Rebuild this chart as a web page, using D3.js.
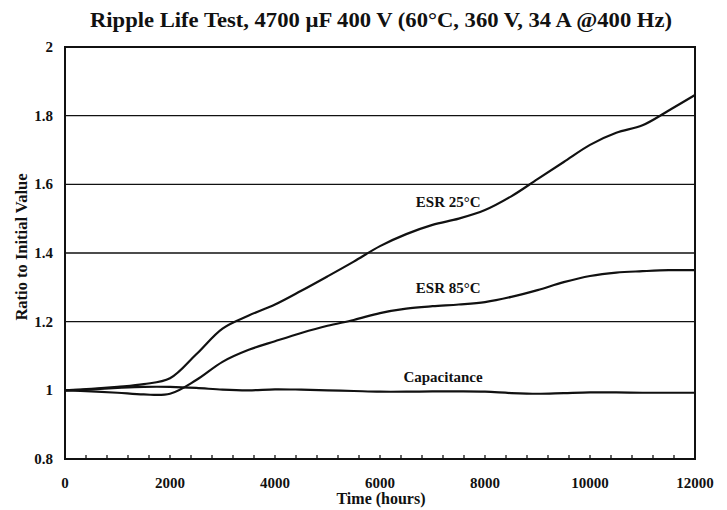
<!DOCTYPE html>
<html><head><meta charset="utf-8">
<script src="https://cdn.jsdelivr.net/npm/d3@7"></script>
<style>body{margin:0;background:#fff}svg{display:block}text{font-family:"Liberation Serif","Times New Roman",serif;font-weight:bold;fill:#111}</style>
</head><body><svg id="c" width="727" height="510"></svg>
<script>
const hours = [0,500,1000,1500,2000,2500,3000,3500,4000,4500,5000,5500,6000,6500,7000,7500,8000,8500,9000,9500,10000,10500,11000,11500,12000];
const esr25 = [1.0,1.004,1.01,1.018,1.035,1.105,1.18,1.218,1.25,1.29,1.332,1.375,1.42,1.455,1.482,1.50,1.525,1.565,1.615,1.665,1.715,1.75,1.772,1.815,1.86];
const esr85 = [1.0,0.997,0.993,0.988,0.99,1.03,1.083,1.118,1.143,1.167,1.188,1.205,1.225,1.238,1.245,1.25,1.257,1.272,1.292,1.315,1.333,1.343,1.347,1.35,1.35];
const capacitance = [1.0,1.003,1.007,1.01,1.01,1.007,1.002,1.0,1.003,1.002,1.0,0.998,0.996,0.996,0.997,0.997,0.996,0.992,0.99,0.992,0.994,0.994,0.993,0.993,0.993];
const xTicks = [0,2000,4000,6000,8000,10000,12000];
const yTicks = [0.8,1,1.2,1.4,1.6,1.8,2];
const gridValues = [1.2,1.4,1.6,1.8];
const seriesLabels = [
  {name:"ESR 25°C", x:7300, y:1.534},
  {name:"ESR 85°C", x:7300, y:1.284},
  {name:"Capacitance", x:7200, y:1.024}
];

const svg = d3.select("#c");
const L=65,R=695,T=47,B=459;
const x = d3.scaleLinear().domain([0,12000]).range([L,R]);
const y = d3.scaleLinear().domain([0.8,2]).range([B,T]);

// grid
svg.append("g").selectAll("line").data(gridValues).join("line")
  .attr("x1",L).attr("x2",R).attr("y1",d=>y(d)).attr("y2",d=>y(d))
  .attr("stroke","#111").attr("stroke-width",1.4);

// frame
svg.append("rect").attr("x",L).attr("y",T).attr("width",R-L).attr("height",B-T)
  .attr("fill","none").attr("stroke","#111").attr("stroke-width",2);

// x axis minor ticks (inside, upward)
const minor = d3.range(0,12001,400);
svg.append("g").selectAll("line").data(minor).join("line")
  .attr("x1",d=>x(d)).attr("x2",d=>x(d)).attr("y1",B).attr("y2",B-4)
  .attr("stroke","#111").attr("stroke-width",1.3);

// tick labels
svg.append("g").selectAll("text").data(xTicks).join("text")
  .attr("x",d=>x(d)).attr("y",B+29).attr("text-anchor","middle").attr("font-size",15)
  .text(d=>d);
svg.append("g").selectAll("text").data(yTicks).join("text")
  .attr("x",L-12).attr("y",d=>y(d)+5).attr("text-anchor","end").attr("font-size",15)
  .text(d=>d3.format("~g")(d));

// lines
const line = d3.line().x((d,i)=>x(hours[i])).y(d=>y(d)).curve(d3.curveCatmullRom.alpha(0.5));
[esr25,esr85,capacitance].forEach(s=>{
  svg.append("path").attr("d",line(s)).attr("fill","none").attr("stroke","#111").attr("stroke-width",2.2);
});

// series labels
svg.append("g").selectAll("text").data(seriesLabels).join("text")
  .attr("x",d=>x(d.x)).attr("y",d=>y(d.y)).attr("text-anchor","middle").attr("font-size",15)
  .text(d=>d.name);

// titles
svg.append("text").attr("x",381).attr("y",27).attr("text-anchor","middle").attr("font-size",20)
  .attr("textLength",582).attr("lengthAdjust","spacingAndGlyphs")
  .text("Ripple Life Test, 4700 µF 400 V (60°C, 360 V, 34 A @400 Hz)");
svg.append("text").attr("x",381).attr("y",504).attr("text-anchor","middle").attr("font-size",16)
  .text("Time (hours)");
svg.append("text").attr("transform","translate(27,247) rotate(-90)").attr("text-anchor","middle").attr("font-size",16.5)
  .text("Ratio to Initial Value");
</script></body></html>
